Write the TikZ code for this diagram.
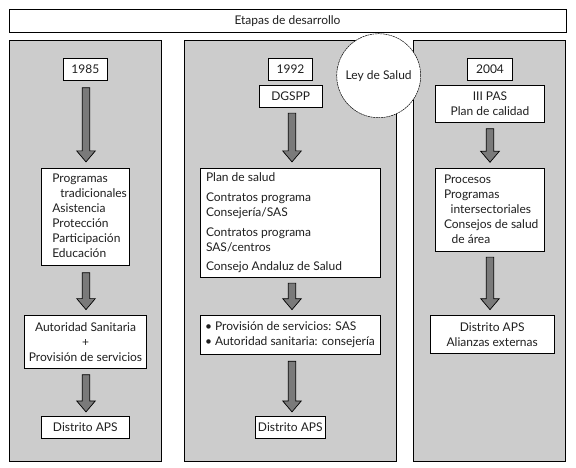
\documentclass[tikz,border=0pt]{standalone}
\usepackage{fontspec}
\setmainfont{Lato}
\usetikzlibrary{calc}
\definecolor{panelgray}{HTML}{CCCCCC}
\definecolor{arrowgray}{HTML}{7A7A7A}
\newcommand\leftlines[3]{\makebox[#1][l]{\hspace*{#2}\begin{tabular}{@{}l@{}}#3\end{tabular}}}
\newcommand\fatarrow[2]{%
  \filldraw[fatarrowstyle] let \p1=#1, \p2=#2 in
   (\x1-3.7pt,\y1) -- (\x1+3.7pt,\y1) -- (\x1+3.7pt,\y2+11pt) -- (\x1+9.3pt,\y2+11pt)
   -- (\x1,\y2) -- (\x1-9.3pt,\y2+11pt) -- (\x1-3.7pt,\y2+11pt) -- cycle;}
\tikzset{
  panel/.style={draw=black, fill=panelgray, line width=0.8pt},
  txt/.style={font=\fontsize{12}{15}\selectfont, text=black!88},
  box/.style={txt, draw=black, fill=white, line width=0.8pt, inner sep=0pt, align=center},
  fatarrowstyle/.style={draw=black, fill=arrowgray, line width=0.7pt, line join=miter},
  leycircle/.style={txt, circle, draw=black, dash pattern=on 2pt off 0.6pt, line width=0.5pt, fill=white, inner sep=0pt, minimum size=84pt},
}
\begin{document}
\begin{tikzpicture}[x=1pt,y=-1pt]
\useasboundingbox (0,0) rectangle (576,468);
\fill[white] (0,0) rectangle (576,468);
% title
\node[box, minimum width=557pt, minimum height=22.3pt] (title) at (287.5,20.85) {Etapas de desarrollo};
% panels
\draw[panel] (9.5,40.7) rectangle (161.5,461);
\draw[panel] (184.5,40.7) rectangle (396.7,461);
\draw[panel] (413.7,40.7) rectangle (565.7,461);
\node[leycircle] (ley) at (378.7,75.7) {Ley de Salud};
% panel 1
\node[box, minimum width=44pt, minimum height=22pt] (y85) at (85.3,69.3) {1985};
\node[box, minimum width=88pt, minimum height=97pt] (prog) at (85.3,216.8)
  {\leftlines{88pt}{11pt}{Programas\\\hspace*{8pt}tradicionales\\Asistencia\\Protección\\Participación\\Educación}};
\node[box, minimum width=122.4pt, minimum height=53pt] (aut) at (85.5,341.8)
  {Autoridad Sanitaria\\+\\Provisión de servicios};
\node[box, minimum width=88pt, minimum height=22pt] (d85) at (85.3,427.3) {Distrito APS};
\fatarrow{($(y85.south)+(0.7,7)$)}{($(prog.north)+(0.7,-6)$)}
\fatarrow{($(prog.south)+(0.7,7)$)}{($(aut.north)+(0.5,-5.3)$)}
\fatarrow{($(aut.south)+(0.5,6)$)}{($(d85.north)+(0.7,-4)$)}
% panel 2
\node[box, minimum width=44.4pt, minimum height=21.7pt] (y92) at (290.5,69.2) {1992};
\node[box, minimum width=63.3pt, minimum height=22.3pt] (dgspp) at (290.7,96.2) {DGSPP};
\node[box, minimum width=180pt, minimum height=109pt] (plan) at (290.7,222.8)
  {\leftlines{180pt}{5.3pt}{Plan de salud\\[5pt]Contratos programa\\Consejería/SAS\\[5pt]Contratos programa\\SAS/centros\\[4pt]Consejo Andaluz de Salud}};
\node[box, minimum width=180pt, minimum height=38.7pt] (prov) at (290.7,334.7)
  {\leftlines{180pt}{4.3pt}{• Provisión de servicios: SAS\\• Autoridad sanitaria: consejería}};
\node[box, minimum width=69.3pt, minimum height=22pt] (d92) at (290.3,427.3) {Distrito APS};
\fatarrow{($(dgspp.south)+(1.3,5.4)$)}{($(plan.north)+(1.3,-6)$)}
\fatarrow{($(plan.south)+(1.3,5.4)$)}{($(prov.north)+(1.3,-5.3)$)}
\fatarrow{($(prov.south)+(1.3,6.7)$)}{($(d92.north)+(1.7,-4)$)}
% panel 3
\node[box, minimum width=44.6pt, minimum height=21.7pt] (y04) at (490,69.2) {2004};
\node[box, minimum width=108.6pt, minimum height=37.3pt] (pas) at (490,103.65) {III PAS\\Plan de calidad};
\node[box, minimum width=108.6pt, minimum height=83.4pt] (proc) at (490,210)
  {\leftlines{108.6pt}{8.3pt}{Procesos\\Programas\\\hspace*{6.7pt}intersectoriales\\Consejos de salud\\\hspace*{7.7pt}de área}};
\node[box, minimum width=124.3pt, minimum height=38.3pt] (ali) at (492.2,334.2) {Distrito APS\\Alianzas externas};
\fatarrow{($(pas.south)+(0,6)$)}{($(proc.north)+(0,-5.6)$)}
\fatarrow{($(proc.south)+(0,5)$)}{($(ali.north)+(-2.2,-5)$)}
\end{tikzpicture}
\end{document}
